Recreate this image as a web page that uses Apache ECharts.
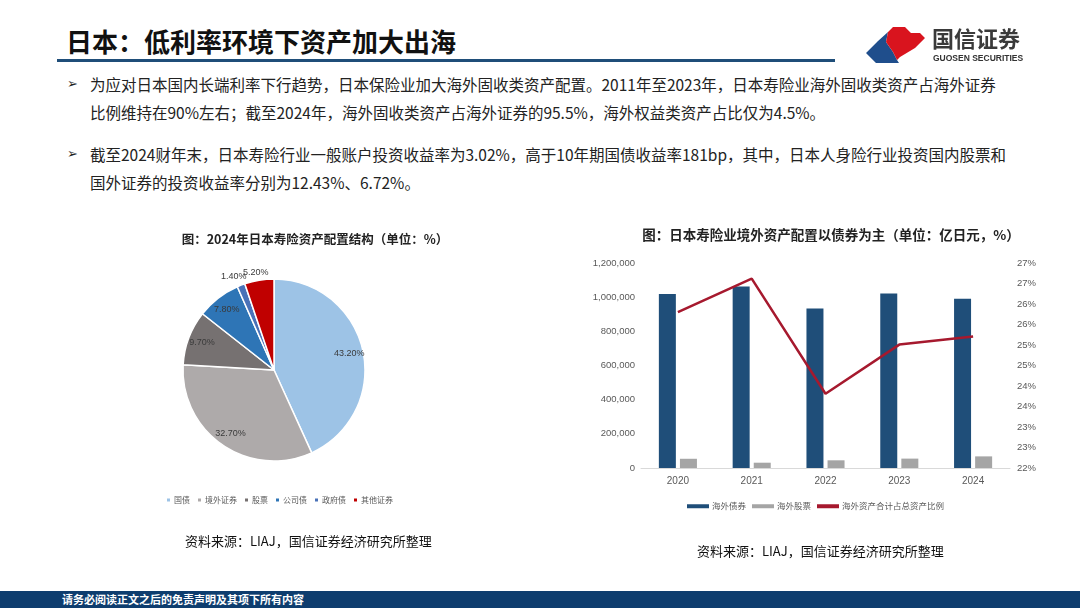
<!DOCTYPE html>
<html>
<head>
<meta charset="utf-8">
<script src="https://cdn.jsdelivr.net/npm/echarts@6/dist/echarts.min.js"></script>
<style>
  body { margin: 0; background: #fff; }
  #page { position: relative; width: 1080px; height: 608px; overflow: hidden; font-family: "Noto Sans CJK SC", sans-serif; color: #1a1a1a; }
  #chart { position: absolute; left: 0; top: 0; width: 1080px; height: 608px; }
  .abs { position: absolute; white-space: nowrap; }
  .head { left: 66px; top: 27px; font-size: 26px; line-height: 28px; font-weight: bold; color: #111; }
  .rule { left: 57px; top: 59px; width: 778px; height: 3px; background: #1F4E79; }
  .line { left: 90px; font-size: 15.5px; line-height: 20px; color: #222; }
  .bullet { left: 67px; font-size: 13px; line-height: 20px; color: #222; font-weight: bold; font-family: "DejaVu Sans", sans-serif; }
  .src { font-size: 13px; line-height: 18px; color: #111; }
  .foot { left: 0; top: 591px; width: 1080px; height: 17px; background: #0E3D6E; }
  .foot span { position: absolute; left: 62px; top: 0; font-size: 11px; line-height: 17px; color: #fff; font-weight: bold; }
</style>
</head>
<body>
<div id="page">
  <div class="abs head">日本：低利率环境下资产加大出海</div>
  <div class="abs rule"></div>

  <div class="abs bullet" style="top:74px">➢</div>
  <div class="abs line" style="top:74px">为应对日本国内长端利率下行趋势，日本保险业加大海外固收类资产配置。2011年至2023年，日本寿险业海外固收类资产占海外证券</div>
  <div class="abs line" style="top:102px">比例维持在90%左右；截至2024年，海外固收类资产占海外证券的95.5%，海外权益类资产占比仅为4.5%。</div>
  <div class="abs bullet" style="top:144px">➢</div>
  <div class="abs line" style="top:144px">截至2024财年末，日本寿险行业一般账户投资收益率为3.02%，高于10年期国债收益率181bp，其中，日本人身险行业投资国内股票和</div>
  <div class="abs line" style="top:172px">国外证券的投资收益率分别为12.43%、6.72%。</div>

  <div id="chart"></div>

  <div class="abs src" style="left:185px; top:532px">资料来源：LIAJ，国信证券经济研究所整理</div>
  <div class="abs src" style="left:697px; top:542px">资料来源：LIAJ，国信证券经济研究所整理</div>

  <div class="abs foot"><span>请务必阅读正文之后的免责声明及其项下所有内容</span></div>
</div>

<script>
// 饼图：2024年日本寿险资产配置结构（%）
const pieNames = ['国债', '境外证券', '股票', '公司债', '政府债', '其他证券']
const pieValues = [43.2, 32.7, 9.7, 7.8, 1.4, 5.2]
const pieColors = ['#9DC3E6', '#AEAAAA', '#767171', '#2E75B6', '#4A72B8', '#C00000']

// 柱线图：境外资产配置（亿日元，%）
const years = ['2020', '2021', '2022', '2023', '2024']
const bondValues = [1018000, 1063000, 933000, 1022000, 991000]
const stockValues = [54000, 31000, 45000, 55000, 68000]
const ratioValues = [25.8, 26.62, 23.81, 25.01, 25.21]
const barNames = ['海外债券', '海外股票', '海外资产合计占总资产比例']

const cjk = '"Noto Sans CJK SC", sans-serif'
const latin = '"Liberation Sans", Arial, sans-serif'
const lineColor = '#A6192E'

function withCommas(v) {
  return String(v).replace(/\B(?=(\d{3})+(?!\d))/g, ',')
}

const pieData = pieNames.map((n, i) => ({ name: n, value: pieValues[i], itemStyle: { color: pieColors[i] } }))
// 小扇区标签放在饼外
const labelData = pieNames.map((n, i) => {
  const outside = pieValues[i] < 6
  return {
    name: n,
    value: pieValues[i],
    label: { position: outside ? 'outside' : 'inside' }
  }
})

const chart = echarts.init(document.getElementById('chart'), null, { renderer: 'canvas' })

const option = {
  backgroundColor: 'transparent',
  animation: false,
  title: [
    {
      text: '图：2024年日本寿险资产配置结构（单位：%）',
      left: 310, top: 228, textAlign: 'center',
      textStyle: { fontSize: 12.5, fontWeight: 'bold', color: '#222', fontFamily: cjk }
    },
    {
      text: '图：日本寿险业境外资产配置以债券为主（单位：亿日元，%）',
      left: 826, top: 223, textAlign: 'center',
      textStyle: { fontSize: 13.5, fontWeight: 'bold', color: '#222', fontFamily: cjk }
    }
  ],
  legend: [
    {
      data: pieNames,
      left: 160, top: 491,
      icon: 'rect', itemWidth: 5, itemHeight: 5, itemGap: 6,
      textStyle: { fontSize: 8, color: '#595959', fontFamily: cjk, padding: [0, 0, 0, -2] }
    },
    {
      data: [
        { name: barNames[0], icon: 'rect' },
        { name: barNames[1], icon: 'rect' },
        { name: barNames[2], icon: 'rect', itemStyle: { color: lineColor } }
      ],
      left: 682, top: 497,
      itemWidth: 22, itemHeight: 4, itemGap: 6,
      textStyle: { fontSize: 8.5, color: '#595959', fontFamily: cjk, padding: [0, 0, 0, -2] }
    }
  ],
  grid: { left: 641, right: 70, top: 263, bottom: 140 },
  xAxis: {
    type: 'category',
    data: years,
    axisLine: { lineStyle: { color: '#D9D9D9' } },
    axisTick: { show: false },
    axisLabel: { fontSize: 10, color: '#595959', margin: 8, fontFamily: latin }
  },
  yAxis: [
    {
      type: 'value', min: 0, max: 1200000, interval: 200000,
      splitLine: { show: false },
      axisLine: { show: false },
      axisLabel: { fontSize: 9.5, color: '#595959', margin: 6, fontFamily: latin, formatter: withCommas }
    },
    {
      type: 'value', min: 22, max: 27, interval: 0.5, position: 'right',
      splitLine: { show: false },
      axisLine: { show: false },
      axisLabel: { fontSize: 9.5, color: '#595959', margin: 7, fontFamily: latin, formatter: v => Math.round(v) + '%' }
    }
  ],
  series: [
    {
      name: 'pie', type: 'pie',
      center: [274, 370], radius: 91,
      startAngle: 90, clockwise: true,
      itemStyle: { borderColor: '#fff', borderWidth: 1.5 },
      label: { show: false }, labelLine: { show: false },
      emphasis: { disabled: true },
      data: pieData
    },
    {
      // 只用来放数据标签
      name: 'pieLabel', type: 'pie',
      center: [274, 370], radius: [57, 91],
      startAngle: 90, clockwise: true,
      silent: true, avoidLabelOverlap: false,
      itemStyle: { color: 'transparent' },
      label: {
        show: true, fontSize: 9, color: '#3a3a3a', fontFamily: latin,
        formatter: p => p.value.toFixed(2) + '%'
      },
      labelLine: { show: false, length: 4, length2: 0 },
      labelLayout: p => (p.dataIndex === 4 ? { dx: 12, dy: -5 } : p.dataIndex === 5 ? { dx: 15, dy: -4 } : {}),
      emphasis: { disabled: true },
      data: labelData
    },
    {
      name: barNames[0], type: 'bar', barWidth: 17, barGap: '24%',
      itemStyle: { color: '#1F4E79' },
      data: bondValues
    },
    {
      name: barNames[1], type: 'bar', barWidth: 17,
      itemStyle: { color: '#A5A5A5' },
      data: stockValues
    },
    {
      name: barNames[2], type: 'line', yAxisIndex: 1,
      symbol: 'none',
      itemStyle: { color: lineColor },
      lineStyle: { color: lineColor, width: 2.5 },
      data: ratioValues
    }
  ],
  graphic: [
    {
      type: 'polygon',
      shape: { points: [[866, 53], [878, 41], [888, 32], [886, 42], [893, 52], [897, 60], [899, 63], [876, 63]] },
      style: { fill: '#1F4E8C' }
    },
    {
      type: 'polygon',
      shape: { points: [[888, 32], [893, 27], [905, 27], [911, 33], [920, 33], [925, 38], [915, 48], [900, 57], [897, 60], [893, 52], [886, 42]] },
      style: { fill: '#D9141E' }
    },
    {
      type: 'text', left: 932, top: 28,
      style: { text: '国信证券', fontSize: 22, fontWeight: 'bold', fill: '#3a3a3a', fontFamily: cjk }
    },
    {
      type: 'text', left: 933, top: 54,
      style: { text: 'GUOSEN SECURITIES', fontSize: 8.5, fontWeight: 'bold', fill: '#333', fontFamily: latin }
    }
  ]
}

chart.setOption(option)
</script>
</body>
</html>
